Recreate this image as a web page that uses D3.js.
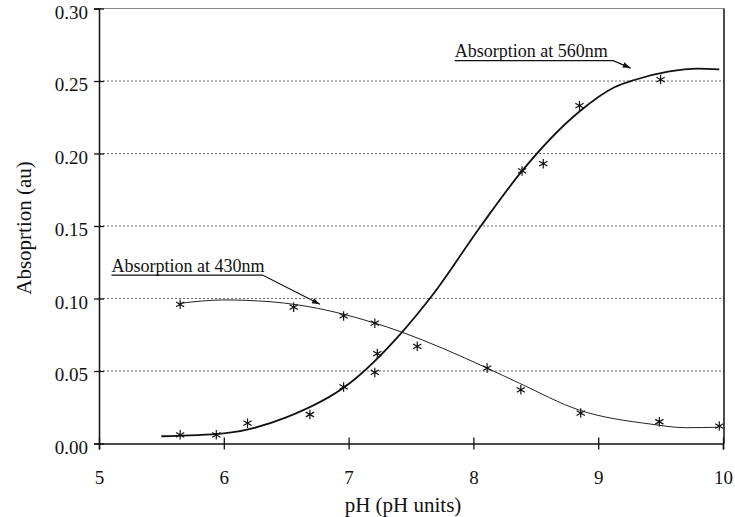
<!DOCTYPE html>
<html>
<head>
<meta charset="utf-8">
<script src="https://cdnjs.cloudflare.com/ajax/libs/d3/7.8.5/d3.min.js"></script>
<style>
  body { margin: 0; background: #fff; }
  text { font-family: "Liberation Serif", "Times New Roman", serif; fill: #111; }
  .grid { stroke: #666; stroke-width: 1; stroke-dasharray: 2,2; }
</style>
</head>
<body>
<script>
//measured points, absorption at 430nm
var pH430 = [5.65, 6.56, 6.96, 7.21, 7.55, 8.11, 8.38, 8.86, 9.49, 9.97];
var abs430 = [0.096, 0.094, 0.088, 0.083, 0.067, 0.052, 0.037, 0.021, 0.015, 0.012];

//measured points, absorption at 560nm
var pH560 = [5.65, 5.94, 6.19, 6.69, 6.96, 7.21, 7.23, 8.39, 8.56, 8.85, 9.50];
var abs560 = [0.006, 0.006, 0.014, 0.020, 0.039, 0.049, 0.062, 0.188, 0.193, 0.233, 0.251];

//fitted curves
var fitPH430 = [5.65, 6.0, 6.37, 6.6, 7.2, 7.42, 8.11, 8.37, 8.85, 9.42, 9.7, 9.96];
var fitAbs430 = [0.0967, 0.099, 0.0978, 0.0955, 0.0833, 0.077, 0.052, 0.0415, 0.023, 0.0134, 0.0109, 0.0112];
var fitPH560 = [5.5, 6.0, 6.5, 7.0, 7.42, 7.66, 8.06, 8.39, 8.85, 9.13, 9.29, 9.56, 9.8, 9.97];
var fitAbs560 = [0.005, 0.007, 0.018, 0.041, 0.076, 0.101, 0.150, 0.188, 0.229, 0.2457, 0.2507, 0.2564, 0.2585, 0.258];

//tick labels
var xTicks = [5, 6, 7, 8, 9, 10];
var yTicks = [0, 0.05, 0.10, 0.15, 0.20, 0.25, 0.30];

//annotation labels: text start, underline end, arrow tip (data units)
var notes = [
  {label: "Absorption at 560nm", x0: 7.85, x1: 9.12, y: 0.2665, tipX: 9.26, tipY: 0.2589},
  {label: "Absorption at 430nm", x0: 5.10, x1: 6.31, y: 0.1186, tipX: 6.77, tipY: 0.0960}
];

window.onload = setChart;

function setChart(){
    var width = 735,
        height = 517;

    var svg = d3.select("body")
        .append("svg")
        .attr("width", width)
        .attr("height", height);

    //scales
    var x = d3.scaleLinear().domain([5, 10]).range([99, 723]);
    var y = d3.scaleLinear().domain([0, 0.30]).range([443.5, 8.5]);

    //arrow head
    svg.append("defs").append("marker")
        .attr("id", "arrow")
        .attr("viewBox", "0 0 10 10")
        .attr("refX", 10).attr("refY", 5)
        .attr("markerWidth", 8).attr("markerHeight", 8)
        .attr("markerUnits", "userSpaceOnUse")
        .attr("orient", "auto")
        .append("path")
        .attr("d", "M0,1.5L10,5L0,8.5Z")
        .attr("fill", "#111");

    //dotted gridlines
    svg.selectAll(".grid")
        .data(yTicks.filter(function(d){ return d > 0 && d < 0.3; }))
        .enter().append("line")
        .attr("class", "grid")
        .attr("x1", x(5)).attr("x2", x(10) + 1)
        .attr("y1", function(d){ return y(d); })
        .attr("y2", function(d){ return y(d); });

    //top and right frame
    svg.append("line")
        .attr("x1", x(5)).attr("x2", x(10) + 1)
        .attr("y1", y(0.30)).attr("y2", y(0.30))
        .attr("stroke", "#888").attr("stroke-width", 1);
    svg.append("line")
        .attr("x1", x(10) + 1).attr("x2", x(10) + 1)
        .attr("y1", y(0.30)).attr("y2", y(0))
        .attr("stroke", "#111").attr("stroke-width", 1.5);

    //x axis
    var xAxis = svg.append("g")
        .attr("transform", "translate(0," + y(0) + ")")
        .call(d3.axisBottom(x).tickValues(xTicks).tickSize(6).tickPadding(22)
            .tickFormat(d3.format("d")));
    xAxis.select(".domain").attr("stroke", "#111").attr("stroke-width", 1.5);
    xAxis.selectAll(".tick line").attr("y1", -6).attr("stroke", "#111").attr("stroke-width", 1.3);
    xAxis.selectAll(".tick text")
        .attr("font-size", 19).attr("dy", 0).attr("y", 40)
        .attr("font-family", "Liberation Serif, serif").attr("fill", "#111");

    //y axis
    var yAxis = svg.append("g")
        .attr("transform", "translate(" + x(5) + ",0)")
        .call(d3.axisLeft(y).tickValues(yTicks).tickSize(5).tickPadding(6)
            .tickFormat(d3.format(".2f")));
    yAxis.select(".domain").attr("stroke", "#111").attr("stroke-width", 1.5);
    yAxis.selectAll(".tick line").attr("x2", 5).attr("x1", -5).attr("stroke", "#111").attr("stroke-width", 1.3);
    yAxis.selectAll(".tick text")
        .attr("font-size", 19).attr("dy", "0.52em").attr("x", -11)
        .attr("font-family", "Liberation Serif, serif").attr("fill", "#111");

    //axis titles
    svg.append("text")
        .attr("x", 403).attr("y", 512)
        .attr("text-anchor", "middle")
        .attr("font-size", 21)
        .text("pH (pH units)");
    svg.append("text")
        .attr("transform", "translate(31,228) rotate(-90)")
        .attr("text-anchor", "middle")
        .attr("font-size", 21)
        .text("Absoprtion (au)");

    //fitted curves
    var line = d3.line()
        .x(function(d){ return x(d[0]); })
        .y(function(d){ return y(d[1]); })
        .curve(d3.curveMonotoneX);

    svg.append("path")
        .datum(d3.zip(fitPH430, fitAbs430))
        .attr("d", line)
        .attr("fill", "none").attr("stroke", "#222").attr("stroke-width", 1);

    svg.append("path")
        .datum(d3.zip(fitPH560, fitAbs560))
        .attr("d", line)
        .attr("fill", "none").attr("stroke", "#111").attr("stroke-width", 1.8);

    //asterisk markers
    var asterisk = {
        draw: function(ctx, size){
            var r = Math.sqrt(size) / 2;
            [90, 30, 150].forEach(function(a){
                var t = a * Math.PI / 180;
                ctx.moveTo(r * Math.cos(t), -r * Math.sin(t));
                ctx.lineTo(-r * Math.cos(t), r * Math.sin(t));
            });
        }
    };
    var star = d3.symbol().type(asterisk).size(90);

    var pts = d3.zip(pH430, abs430).concat(d3.zip(pH560, abs560));
    svg.selectAll(".star")
        .data(pts)
        .enter().append("path")
        .attr("class", "star")
        .attr("transform", function(d){ return "translate(" + x(d[0]) + "," + y(d[1]) + ")"; })
        .attr("d", star)
        .attr("fill", "none").attr("stroke", "#111").attr("stroke-width", 1.2);

    //annotations with underline and arrow
    var note = svg.selectAll(".note")
        .data(notes)
        .enter().append("g")
        .attr("class", "note");

    note.append("text")
        .attr("x", function(d){ return x(d.x0); })
        .attr("y", function(d){ return y(d.y); })
        .attr("font-size", 18)
        .text(function(d){ return d.label; });

    note.append("polyline")
        .attr("points", function(d){
            return [[x(d.x0), y(d.y) + 3.5], [x(d.x1), y(d.y) + 3.5], [x(d.tipX), y(d.tipY)]].join(" ");
        })
        .attr("fill", "none").attr("stroke", "#111").attr("stroke-width", 1.2)
        .attr("marker-end", "url(#arrow)");
}
</script>
</body>
</html>
